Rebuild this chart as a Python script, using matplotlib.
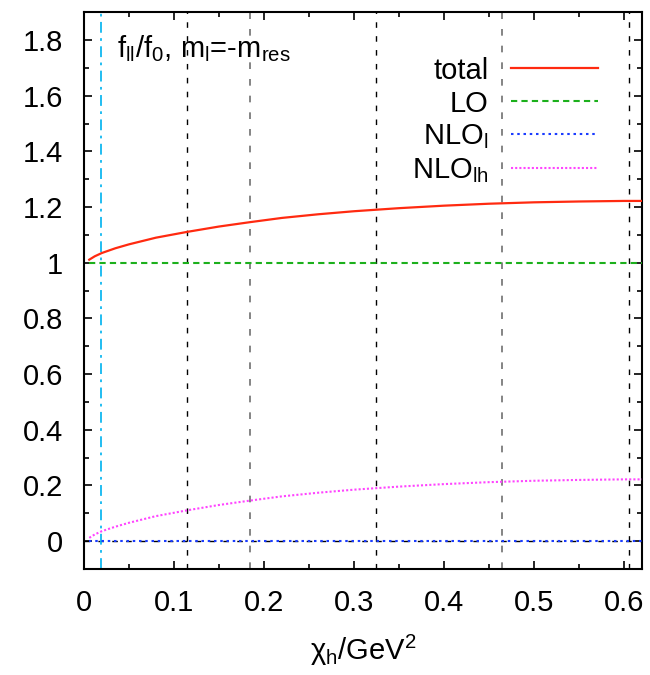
import numpy as np
import matplotlib
matplotlib.use("Agg")
import matplotlib.pyplot as plt
from matplotlib.ticker import MultipleLocator

plt.rcParams["font.family"] = ["Liberation Sans", "DejaVu Sans"]
plt.rcParams["mathtext.fontset"] = "custom"
plt.rcParams["mathtext.rm"] = "Liberation Sans"
plt.rcParams["mathtext.it"] = "Liberation Sans"
plt.rcParams["mathtext.bf"] = "Liberation Sans:bold"

# values
chi_h = [0.006, 0.012, 0.02, 0.035, 0.05, 0.08, 0.115, 0.15, 0.185, 0.22,
         0.26, 0.30, 0.35, 0.40, 0.45, 0.50, 0.55, 0.60, 0.62]
nlo_lh = [0.012, 0.024, 0.036, 0.052, 0.066, 0.090, 0.111, 0.130, 0.146, 0.161,
          0.174, 0.185, 0.196, 0.205, 0.212, 0.217, 0.220, 0.222, 0.222]
total = [1.011, 1.023, 1.035, 1.052, 1.066, 1.090, 1.111, 1.130, 1.146, 1.161,
         1.174, 1.185, 1.196, 1.205, 1.212, 1.217, 1.220, 1.222, 1.222]
lo = [1.0] * len(chi_h)
nlo_l = [0.0] * len(chi_h)

black_lines = [0.114, 0.324, 0.605]
grey_lines = [0.184, 0.4645]
cyan_line = 0.0188

FS = 21

fig = plt.figure(figsize=(6.5, 6.75), dpi=100)
ax = fig.add_axes([0.129, 0.157, 0.859, 0.825])

for xv in black_lines:
    ax.axvline(xv, color="black", lw=1.0, ls=(0, (4, 6)), zorder=1)
for xv in grey_lines:
    ax.axvline(xv, color="#707070", lw=1.2, ls=(0, (4, 6)), zorder=1)
ax.axvline(cyan_line, color="#10b8f0", lw=1.3, ls=(0, (6, 3, 1.5, 3)), zorder=2)
ax.axhline(0, color="black", lw=1.0, ls=(0, (4, 6)), zorder=1)

ax.plot(chi_h, total, color="#ff2a10", lw=1.6, label="total", zorder=4)
ax.plot(chi_h, lo, color="#1cb01c", lw=1.5, ls=(0, (3, 2)), label="LO", zorder=3)
ax.plot(chi_h, nlo_l, color="#1a3cff", lw=1.5, ls=(0, (1.2, 1.8)),
        label=r"NLO$_{\mathrm{l}}$", zorder=3)
ax.plot(chi_h, nlo_lh, color="#ff44ff", lw=1.5, ls=(0, (1, 1)),
        label=r"NLO$_{\mathrm{lh}}$", zorder=3)

ax.set_xlim(0, 0.62)
ax.set_ylim(-0.1, 1.9)
ax.xaxis.set_minor_locator(MultipleLocator(0.05))
ax.yaxis.set_minor_locator(MultipleLocator(0.1))
ax.set_xticks([0, 0.1, 0.2, 0.3, 0.4, 0.5, 0.6])
ax.set_xticklabels(["0", "0.1", "0.2", "0.3", "0.4", "0.5", "0.6"])
ax.set_yticks([0, 0.2, 0.4, 0.6, 0.8, 1.0, 1.2, 1.4, 1.6, 1.8])
ax.set_yticklabels(["0", "0.2", "0.4", "0.6", "0.8", "1", "1.2", "1.4", "1.6", "1.8"])
ax.tick_params(which="both", direction="in", top=True, right=True,
               labelsize=FS, width=1.2)
ax.tick_params(which="major", length=6)
ax.tick_params(axis="y", which="major", pad=15)
ax.tick_params(axis="x", which="major", pad=14.5)
ax.tick_params(which="minor", length=3.5)
for s in ax.spines.values():
    s.set_linewidth(1.5)

ax.set_xlabel(r"χ$_{\mathrm{h}}$/GeV$^{2}$", fontsize=FS, labelpad=11)

ax.text(0.059, 0.962, r"f$_{\mathrm{ll}}$/f$_{0}$, m$_{\mathrm{l}}$=-m$_{\mathrm{res}}$",
        transform=ax.transAxes, fontsize=FS, ha="left", va="top")

ax.legend(loc="upper right", bbox_to_anchor=(0.921, 0.92), frameon=False,
          markerfirst=False, fontsize=FS, handlelength=3.0, handletextpad=0.75,
          labelspacing=0.17, borderpad=0, borderaxespad=0)

fig.savefig("out.png", dpi=100)
